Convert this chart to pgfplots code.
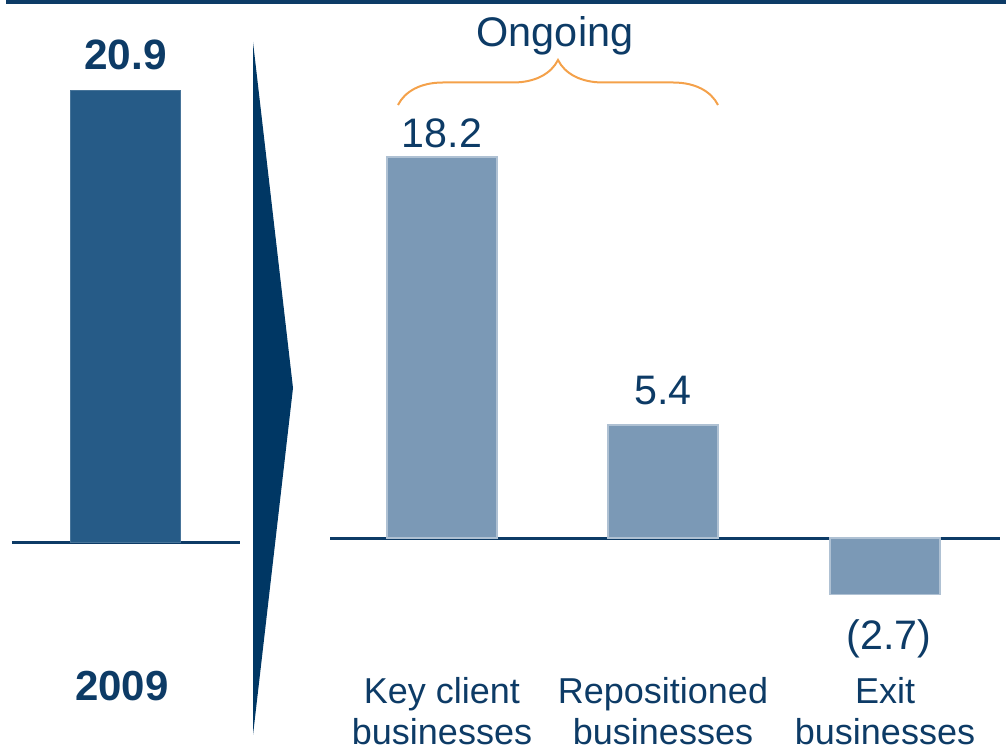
\documentclass[border=0pt]{standalone}
\usepackage{pgfplots}
\pgfplotsset{compat=1.18}
\usepackage{fontspec}
\setmainfont{Liberation Sans}
\usetikzlibrary{decorations.pathreplacing}
\definecolor{navy}{HTML}{0D3B66}
\definecolor{arrownavy}{HTML}{003764}
\definecolor{darkbar}{HTML}{265B87}
\definecolor{lightbar}{HTML}{7B99B6}
\definecolor{lightedge}{HTML}{AFC1D3}
\definecolor{bracecol}{HTML}{F4A14A}
\begin{document}
\begin{tikzpicture}
\path[use as bounding box] (0,0) rectangle (503pt,374.5pt);
% top rule
\draw[navy, line width=2pt] (3pt,373.25pt) -- (503pt,373.25pt);
% chevron
\fill[arrownavy] (126.5pt,353.5pt) -- (146.5pt,180.5pt) -- (126.5pt,7pt) -- cycle;
% left axis: 2009
\begin{axis}[
  at={(6pt,103pt)}, anchor=south west, scale only axis,
  width=114pt, height=227.1pt,
  xmin=12, xmax=240, ymin=0, ymax=21,
  axis x line*=bottom, axis y line=none,
  axis line style={-, navy, line width=1.5pt},
  ytick=\empty, xtick={122}, xticklabels={\textbf{2009}},
  major tick length=0pt,
  xticklabel style={font=\fontsize{21}{24}\selectfont, text=navy, anchor=base, yshift=-78.5pt},
  ybar, bar width=54.5pt, bar shift=0pt, clip=false,
  point meta=explicit symbolic,
  nodes near coords,
  every node near coord/.append style={anchor=base, yshift=10.5pt, font=\fontsize{21.2}{24}\selectfont\bfseries, text=navy},
]
\addplot[fill=darkbar, draw=darkbar!85!white, line width=0.5pt] coordinates {(125.5,20.9) [20.9]};
\end{axis}
% right axis
\begin{axis}[
  at={(165pt,74.1pt)}, anchor=south west, scale only axis,
  width=335pt, height=230.23pt,
  xmin=330, xmax=1000, ymin=-3, ymax=19,
  axis x line=middle, axis y line=none,
  axis line style={-, navy, line width=1.5pt},
  ytick=\empty, xtick={442,663,885},
  xticklabels={Key client\\businesses, Repositioned\\businesses, Exit\\businesses},
  major tick length=0pt,
  xticklabel style={font=\fontsize{18}{20.5}\selectfont, text=navy, align=center, anchor=north, yshift=-66pt},
  ybar, bar width=55pt, bar shift=0pt, clip=false,
  point meta=explicit symbolic,
  nodes near coords,
  every node near coord/.append style={font=\fontsize{20.6}{24}\selectfont, text=navy},
]
\addplot[fill=lightbar, draw=lightedge, line width=0.6pt,
  every node near coord/.append style={anchor=base, yshift=5pt}]
  coordinates {(442,18.2) [18.2]};
\addplot[fill=lightbar, draw=lightedge, line width=0.6pt,
  every node near coord/.append style={anchor=base, yshift=10pt}]
  coordinates {(663,5.4) [5.4]};
\addplot[fill=lightbar, draw=lightedge, line width=0.6pt,
  every node near coord/.append style={anchor=base, xshift=2pt, yshift=-27.5pt}]
  coordinates {(885,-2.7) [(2.7)]};
\end{axis}
% brace and group label
\draw[bracecol, line width=1pt, decorate, decoration={brace, amplitude=22.5pt}] (199pt,322pt) -- (359pt,322pt);
\node[anchor=base, text=navy, font=\fontsize{20.7}{24}\selectfont] at (277.5pt,351pt) {Ongoing};
\end{tikzpicture}
\end{document}
